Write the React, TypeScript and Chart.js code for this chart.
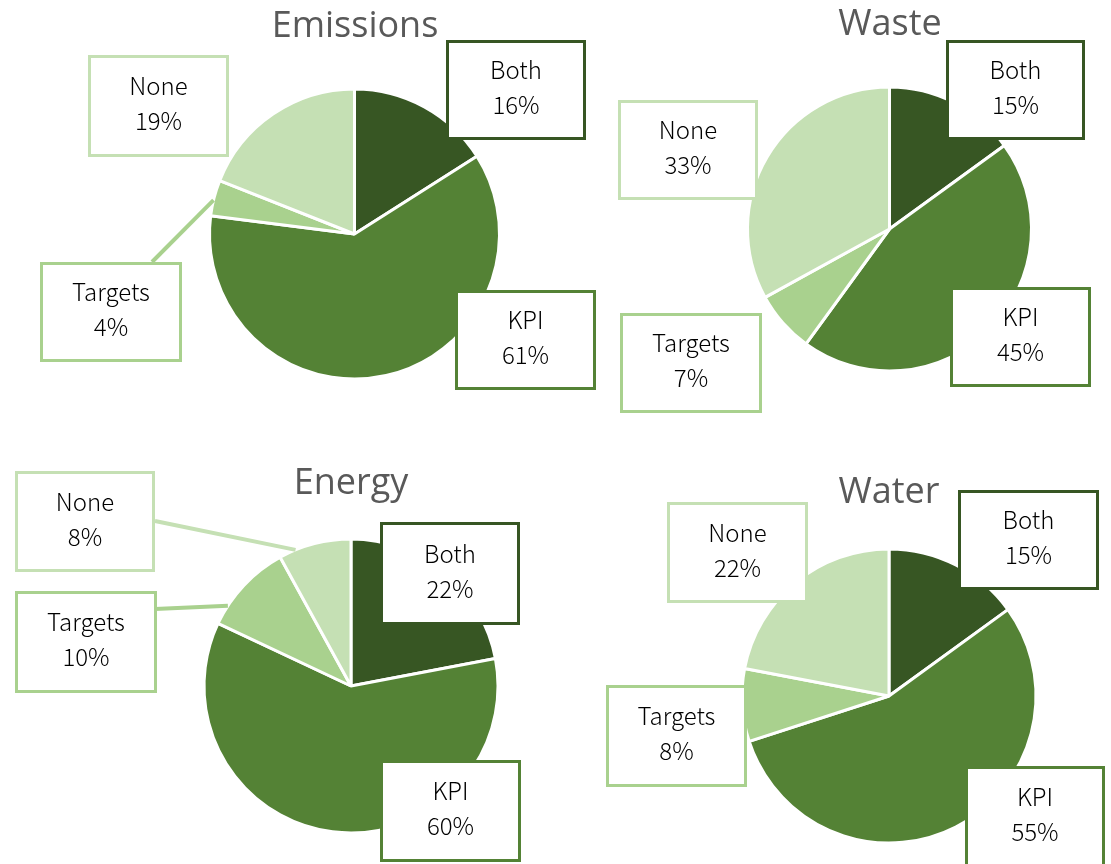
import React, { useEffect, useRef } from "react";
import { Chart, registerables } from "chart.js";

Chart.register(...registerables);

// ---- data ----
const categories = ["Both", "KPI", "Targets", "None"];
const chartTitles = ["Emissions", "Waste", "Energy", "Water"];
const emissionsValues = [16, 61, 4, 19];
const wasteValues = [15, 45, 7, 33];
const energyValues = [22, 60, 10, 8];
const waterValues = [15, 55, 8, 22];
const seriesValues = [emissionsValues, wasteValues, energyValues, waterValues];

// ---- styles ----
const sliceColors = ["#375623", "#548235", "#A9D18E", "#C5E0B4"];
const W = 1111;
const H = 864;
const BORDER = 3;

type Box = { x: number; y: number; w: number; h: number };
type Leader = { cat: number; frac: number; bx: number; by: number };
type Layout = {
  cx: number;
  cy: number;
  r: number;
  tx: number;
  ty: number;
  boxes: Box[]; // indexed by category
  leaders: Leader[];
};

const layouts: Layout[] = [
  {
    cx: 354.5, cy: 234, r: 145, tx: 355, ty: 27,
    boxes: [
      { x: 446, y: 40, w: 140, h: 100 },
      { x: 455, y: 290, w: 141, h: 100 },
      { x: 40, y: 262, w: 142, h: 100 },
      { x: 88, y: 55, w: 141, h: 102 },
    ],
    leaders: [{ cat: 2, frac: 0.44, bx: 152, by: 262 }],
  },
  {
    cx: 889.5, cy: 229, r: 142, tx: 890, ty: 25,
    boxes: [
      { x: 946, y: 40, w: 139, h: 100 },
      { x: 950, y: 287, w: 141, h: 100 },
      { x: 620, y: 313, w: 142, h: 100 },
      { x: 618, y: 100, w: 140, h: 100 },
    ],
    leaders: [],
  },
  {
    cx: 351, cy: 686, r: 147, tx: 351, ty: 484,
    boxes: [
      { x: 380, y: 522, w: 140, h: 103 },
      { x: 380, y: 760, w: 141, h: 102 },
      { x: 15, y: 591, w: 142, h: 102 },
      { x: 15, y: 471, w: 140, h: 101 },
    ],
    leaders: [
      { cat: 3, frac: 0.23, bx: 155, by: 521 },
      { cat: 2, frac: 0.22, bx: 155, by: 609 },
    ],
  },
  {
    cx: 889, cy: 696, r: 147, tx: 889, ty: 493,
    boxes: [
      { x: 958, y: 490, w: 141, h: 100 },
      { x: 965, y: 766, w: 140, h: 102 },
      { x: 606, y: 685, w: 141, h: 102 },
      { x: 667, y: 502, w: 141, h: 101 },
    ],
    leaders: [],
  },
];

const LABEL_FONT = '300 24px "Noto Sans CJK SC", "Noto Sans", sans-serif';
const TITLE_FONT = '36px "Open Sans", "Noto Sans", sans-serif';

function makeOverlay(idx: number) {
  return {
    id: "overlay" + idx,
    afterDraw(chart: any) {
      const ctx: CanvasRenderingContext2D = chart.ctx;
      const lay = layouts[idx];
      const meta = chart.getDatasetMeta(0);
      const vals = seriesValues[idx];
      ctx.save();
      // title
      ctx.fillStyle = "#595959";
      ctx.font = TITLE_FONT;
      ctx.textAlign = "center";
      ctx.textBaseline = "middle";
      ctx.fillText(chartTitles[idx], lay.tx, lay.ty);

      // leader lines
      lay.leaders.forEach((ld) => {
        const arc = meta.data[ld.cat] as any;
        const p = arc.getProps(["x", "y", "startAngle", "endAngle", "outerRadius"], true);
        const a = p.startAngle + ld.frac * (p.endAngle - p.startAngle);
        const ex = p.x + Math.cos(a) * p.outerRadius;
        const ey = p.y + Math.sin(a) * p.outerRadius;
        ctx.strokeStyle = sliceColors[ld.cat];
        ctx.lineWidth = 4;
        ctx.beginPath();
        ctx.moveTo(ld.bx, ld.by);
        ctx.lineTo(ex, ey);
        ctx.stroke();
      });

      // boxes
      lay.boxes.forEach((b, i) => {
        ctx.fillStyle = "#ffffff";
        ctx.fillRect(b.x, b.y, b.w, b.h);
        ctx.strokeStyle = sliceColors[i];
        ctx.lineWidth = 3;
        ctx.strokeRect(b.x + 1.5, b.y + 1.5, b.w - 3, b.h - 3);
        ctx.fillStyle = "#000000";
        ctx.font = LABEL_FONT;
        ctx.textAlign = "center";
        ctx.textBaseline = "middle";
        const mx = b.x + b.w / 2;
        const my = b.y + b.h / 2;
        ctx.fillText(categories[i], mx, my - 20);
        ctx.fillText(vals[i] + "%", mx, my + 15);
      });
      ctx.restore();
    },
  };
}

function PieCanvas({ idx }: { idx: number }) {
  const ref = useRef<HTMLCanvasElement>(null);
  useEffect(() => {
    if (!ref.current) return;
    const lay = layouts[idx];
    const half = lay.r + BORDER / 2;
    const chart = new Chart(ref.current, {
      type: "pie",
      data: {
        labels: categories,
        datasets: [
          {
            data: seriesValues[idx],
            backgroundColor: sliceColors,
            borderColor: "#ffffff",
            borderWidth: BORDER,
            hoverBorderWidth: BORDER,
            hoverOffset: 0,
          },
        ],
      },
      options: {
        responsive: false,
        animation: false,
        events: [],
        layout: {
          padding: {
            left: lay.cx - half,
            right: W - (lay.cx + half),
            top: lay.cy - half,
            bottom: H - (lay.cy + half),
          },
        },
        plugins: {
          legend: { display: false },
          tooltip: { enabled: false },
          title: { display: false },
        },
      },
      plugins: [makeOverlay(idx)],
    });
    return () => chart.destroy();
  }, [idx]);
  return (
    <canvas
      ref={ref}
      width={W}
      height={H}
      style={{ position: "absolute", left: 0, top: 0, width: W, height: H }}
    />
  );
}

export default function App() {
  return (
    <div
      style={{
        position: "fixed",
        left: 0,
        top: 0,
        width: W,
        height: H,
        background: "#ffffff",
        overflow: "hidden",
      }}
    >
      {[0, 1, 2, 3].map((i) => (
        <PieCanvas key={i} idx={i} />
      ))}
    </div>
  );
}
